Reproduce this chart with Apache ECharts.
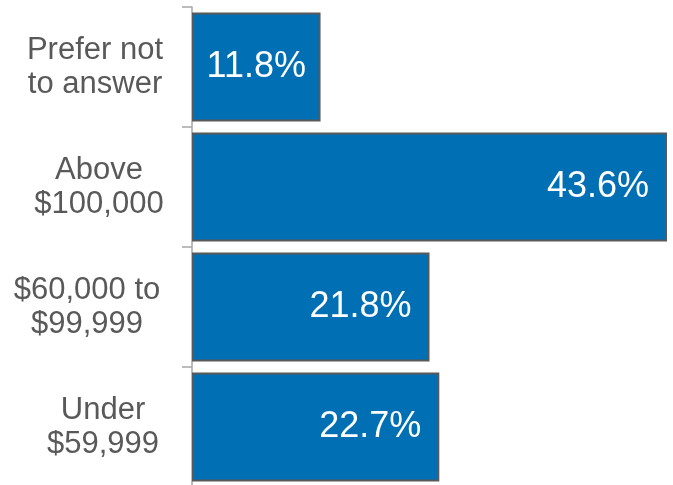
<!DOCTYPE html>
<html>
<head>
<meta charset="utf-8">
<script src="https://cdn.jsdelivr.net/npm/echarts@6/dist/echarts.min.js"></script>
<style>
  html, body { margin: 0; padding: 0; background: #ffffff; }
  #chart { width: 673px; height: 485px; }
</style>
</head>
<body>
<div id="chart"></div>
<script>
// Household income groups, top to bottom
const categories = ['Prefer not\nto answer', 'Above\n$100,000', '$60,000 to\n$99,999', 'Under\n$59,999'];
// Share of respondents (%)
const shares = [11.8, 43.6, 21.8, 22.7];
// Small horizontal nudges for each category label block
const labelShift = [0, 4, -8, 8];

const chart = echarts.init(document.getElementById('chart'), null, { renderer: 'canvas' });

chart.setOption({
  animation: false,
  grid: { left: 192, right: 6, top: 7, height: 480, containLabel: false, outerBoundsMode: 'none' },
  xAxis: {
    type: 'value',
    min: 0,
    max: 43.6,
    show: false
  },
  yAxis: {
    type: 'category',
    inverse: true,
    data: categories.map((c, i) => ({
      value: c,
      textStyle: {
        align: 'center',
        padding: labelShift[i] >= 0 ? [0, 0, 0, labelShift[i] * 2] : [0, -labelShift[i] * 2, 0, 0]
      }
    })),
    axisLine: { show: true, lineStyle: { color: '#a6a6a6', width: 1.5 } },
    axisTick: { show: true, length: 10, alignWithLabel: false, lineStyle: { color: '#a6a6a6', width: 1.5 } },
    axisLabel: {
      margin: 97,
      align: 'center',
      color: '#595959',
      fontFamily: 'Liberation Sans, Arial, sans-serif',
      fontSize: 31,
      lineHeight: 34
    }
  },
  series: [{
    type: 'bar',
    data: shares.map((v, i) => ({
      value: v,
      label: i === 0 ? { position: 'inside' } : undefined
    })),
    barCategoryGap: '9%',
    itemStyle: { color: '#006fb4', borderColor: '#595959', borderWidth: 2 },
    label: {
      show: true,
      position: 'insideRight',
      distance: 18,
      color: '#ffffff',
      fontFamily: 'Liberation Sans, Arial, sans-serif',
      fontSize: 36,
      formatter: p => p.value.toFixed(1) + '%'
    }
  }]
});
</script>
</body>
</html>
